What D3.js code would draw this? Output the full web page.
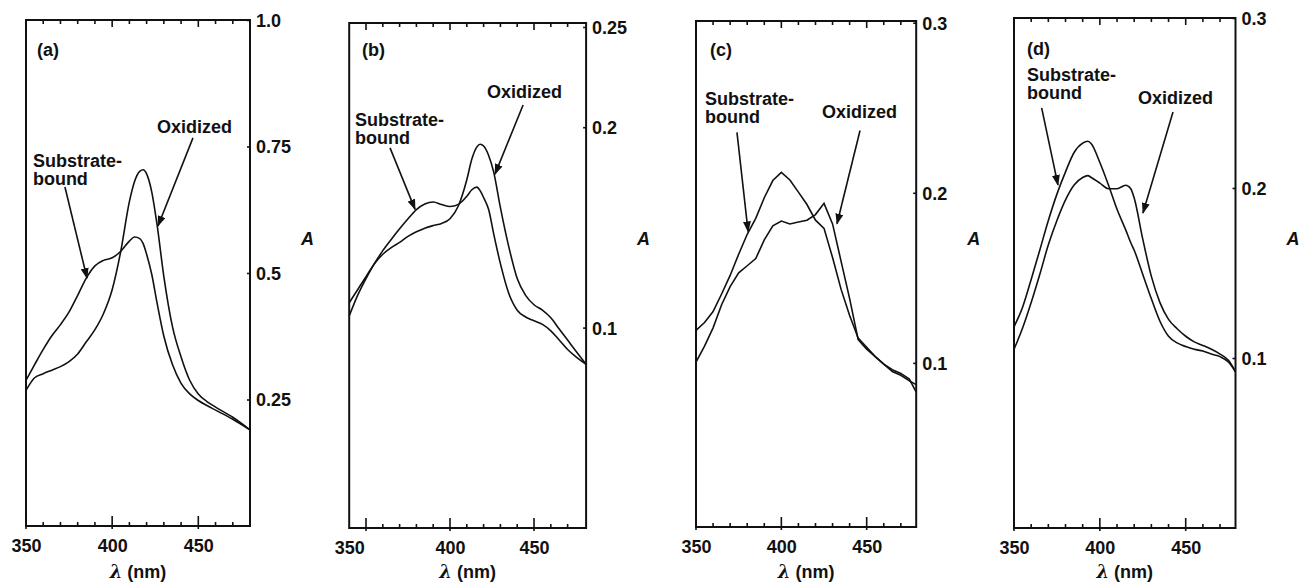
<!DOCTYPE html>
<html>
<head>
<meta charset="utf-8">
<script src="https://cdn.jsdelivr.net/npm/d3@7"></script>
<style>
  body { margin: 0; background: #ffffff; }
  text { font-family: "Liberation Sans", Arial, sans-serif; font-weight: bold; font-size: 18px; fill: #111; }
</style>
</head>
<body>
<svg id="chart"></svg>
<script>

// WAVELENGTHS (nm) AND ABSORBANCE

// PANEL (a)
var wl_a = [350,355,360,365,370,375,380,385,390,395,400,405,410,413,416,418,420,423,426,430,435,440,445,450,455,460,470,480];
var oxidized_a = [0.268,0.293,0.301,0.308,0.315,0.325,0.340,0.364,0.388,0.420,0.467,0.543,0.641,0.681,0.701,0.704,0.696,0.660,0.597,0.493,0.394,0.334,0.288,0.261,0.246,0.235,0.215,0.190];
var substrate_a = [0.288,0.319,0.349,0.376,0.398,0.423,0.456,0.490,0.514,0.525,0.530,0.543,0.563,0.571,0.568,0.558,0.537,0.497,0.442,0.375,0.319,0.282,0.261,0.248,0.238,0.229,0.211,0.190];

// PANEL (b)
var wl_b = [340,345,350,355,360,365,370,375,380,385,390,395,400,405,410,413,416,418,420,423,426,430,435,440,445,450,455,460,465,470,475,481];
var oxidized_b = [0.1124,0.1189,0.1254,0.1319,0.1366,0.1399,0.1425,0.1455,0.1478,0.1496,0.1509,0.1520,0.1543,0.1608,0.1738,0.1841,0.1902,0.1915,0.1906,0.1859,0.1776,0.1599,0.1403,0.1245,0.1161,0.1114,0.1087,0.1049,0.0993,0.0938,0.0882,0.0817];
var substrate_b = [0.1058,0.1161,0.1245,0.1319,0.1384,0.1440,0.1493,0.1543,0.1589,0.1617,0.1627,0.1614,0.1604,0.1615,0.1655,0.1688,0.1701,0.1682,0.1649,0.1589,0.1468,0.1319,0.1170,0.1087,0.1053,0.1034,0.1016,0.0984,0.0938,0.0891,0.0854,0.0817];

// PANEL (c)
var wl_c = [350,355,360,365,370,375,380,385,390,395,400,405,410,415,420,425,430,435,440,445,450,455,460,465,470,475,479];
var oxidized_c = [0.1004,0.1098,0.1206,0.1342,0.1448,0.1529,0.1571,0.1613,0.1723,0.1806,0.1834,0.1817,0.1828,0.1839,0.1872,0.1938,0.1817,0.1597,0.1378,0.1136,0.1081,0.1037,0.0993,0.0960,0.0938,0.0905,0.0828];
var substrate_c = [0.1191,0.1237,0.1302,0.1405,0.1514,0.1639,0.1756,0.1850,0.1971,0.2072,0.2120,0.2075,0.2004,0.1931,0.1839,0.1791,0.1619,0.1432,0.1278,0.1146,0.1092,0.1037,0.0993,0.0949,0.0927,0.0894,0.0872];

// PANEL (d)
var wl_d = [350,355,360,365,370,375,380,385,390,393,395,400,405,410,415,418,420,425,430,435,440,445,450,455,460,465,470,475,479];
var oxidized_d = [0.1051,0.1176,0.1326,0.1491,0.1666,0.1809,0.1930,0.2018,0.2062,0.2073,0.2062,0.2029,0.1996,0.1996,0.2016,0.1996,0.1941,0.1699,0.1480,0.1326,0.1227,0.1172,0.1128,0.1095,0.1074,0.1051,0.1023,0.0985,0.0919];
var substrate_d = [0.1183,0.1299,0.1462,0.1634,0.1809,0.1964,0.2095,0.2209,0.2264,0.2275,0.2260,0.2150,0.2018,0.1875,0.1755,0.1678,0.1634,0.1491,0.1348,0.1216,0.1128,0.1089,0.1067,0.1051,0.1041,0.1023,0.1008,0.0975,0.0919];

// TICK LABELS
var xTickText = ["350", "400", "450"];
var yTicks_a = [0.25, 0.5, 0.75, 1.0],  yTickText_a = ["0.25", "0.5", "0.75", "1.0"];
var yTicks_b = [0.1, 0.2, 0.25],        yTickText_b = ["0.1", "0.2", "0.25"];
var yTicks_c = [0.1, 0.2, 0.3],         yTickText_c = ["0.1", "0.2", "0.3"];
var yTicks_d = [0.1, 0.2, 0.3],         yTickText_d = ["0.1", "0.2", "0.3"];


var width = 1300,
    height = 584;

var svg = d3.select('#chart')
            .attr("width", width)
            .attr("height", height);

svg.append("rect").attr("width", width).attr("height", height).attr("fill", "#ffffff");

var defs = svg.append("defs");
defs.append("marker")
    .attr("id", "head")
    .attr("markerUnits", "userSpaceOnUse")
    .attr("markerWidth", 11)
    .attr("markerHeight", 8)
    .attr("refX", 10)
    .attr("refY", 4)
    .attr("orient", "auto")
  .append("path")
    .attr("d", "M0,0 L11,4 L0,8 Z")
    .attr("fill", "#111");


function show_panel(p){

    var x = d3.scaleLinear().domain(p.xdomain).range(p.xrange);
    var y = d3.scaleLinear().domain(p.ydomain).range(p.yrange);

    var g = svg.append("g");

    var left = p.xrange[0], right = p.xrange[1],
        top = p.yrange[1], bottom = p.yrange[0];

    // FRAME
    g.append("rect")
        .attr("x", left).attr("y", top)
        .attr("width", right - left).attr("height", bottom - top)
        .attr("fill", "none").attr("stroke", "#111").attr("stroke-width", 2);

    // TOP AND BOTTOM TICKS EVERY 10 nm, POINTING INWARD
    var minor = d3.range(350, 480, 10);

    g.selectAll(".ttick").data(minor).enter().append("line")
        .attr("x1", function(d){ return x(d); })
        .attr("x2", function(d){ return x(d); })
        .attr("y1", top)
        .attr("y2", function(d){ return top + (d % 50 == 0 ? 7 : 4); })
        .attr("stroke", "#111").attr("stroke-width", 1.6);

    g.selectAll(".btick").data(minor).enter().append("line")
        .attr("x1", function(d){ return x(d); })
        .attr("x2", function(d){ return x(d); })
        .attr("y1", function(d){ return d % 50 == 0 ? bottom + 3 : bottom; })
        .attr("y2", function(d){ return bottom - (d % 50 == 0 ? 10 : 4); })
        .attr("stroke", "#111").attr("stroke-width", 1.6);

    // BOTTOM LABELS
    var xa = g.append("g")
        .attr("transform", "translate(0," + bottom + ")")
        .call(d3.axisBottom(x)
            .tickValues(p.xLabelAt)
            .tickFormat(function(d, i){ return xTickText[i]; })
            .tickSize(0)
            .tickPadding(13));
    xa.select(".domain").remove();
    xa.selectAll("text").attr("font-size", null).attr("font-family", null);

    // RIGHT AXIS
    var ya = g.append("g")
        .attr("transform", "translate(" + right + ",0)")
        .call(d3.axisRight(y)
            .tickValues(p.yticks)
            .tickFormat(function(d, i){ return p.ylabels[i]; })
            .tickSizeInner(-3)
            .tickSizeOuter(0)
            .tickPadding(6));
    ya.select(".domain").remove();
    ya.selectAll("line").attr("stroke", "#111").attr("stroke-width", 1.6);
    ya.selectAll("text").attr("font-size", null).attr("font-family", null).attr("dy", "0.36em");

    // AXIS TITLES
    var xt = g.append("text")
        .attr("x", (left + right) / 2)
        .attr("y", 578)
        .attr("text-anchor", "middle");
    xt.append("tspan").attr("font-style", "italic").attr("font-family", "DejaVu Serif").text("λ");
    xt.append("tspan").text(" (nm)");

    g.append("text")
        .attr("x", right + 51)
        .attr("y", 245)
        .attr("font-style", "italic")
        .text("A");

    // SPECTRA
    var line = d3.line()
        .x(function(d){ return x(d[0]); })
        .y(function(d){ return y(d[1]); })
        .curve(p.smooth ? d3.curveMonotoneX : d3.curveLinear);

    [p.oxidized, p.substrate].forEach(function(series){
        g.append("path")
            .datum(p.wl.map(function(w, i){ return [w, series[i]]; }))
            .attr("d", line)
            .attr("fill", "none")
            .attr("stroke", "#111")
            .attr("stroke-width", 1.6);
    });

    // PANEL LETTER AND LABELS
    g.append("text").attr("x", x(p.letterAt[0])).attr("y", y(p.letterAt[1])).text(p.letter);

    g.append("text").attr("x", x(p.subAt[0])).attr("y", y(p.subAt[1])).text("Substrate-");
    g.append("text").attr("x", x(p.subAt[0])).attr("y", y(p.subAt[1]) + 18).text("bound");
    g.append("text").attr("x", x(p.oxAt[0])).attr("y", y(p.oxAt[1])).text("Oxidized");

    // ARROWS
    [p.subArrow, p.oxArrow].forEach(function(a){
        g.append("line")
            .attr("x1", x(a[0])).attr("y1", y(a[1]))
            .attr("x2", x(a[2])).attr("y2", y(a[3]))
            .attr("stroke", "#111").attr("stroke-width", 1.6)
            .attr("marker-end", "url(#head)");
    });
}


show_panel({
    wl: wl_a, oxidized: oxidized_a, substrate: substrate_a, smooth: true,
    xdomain: [350, 480], xrange: [26, 250],
    ydomain: [0, 1], yrange: [526, 20],
    xLabelAt: [350, 400, 450],
    yticks: yTicks_a, ylabels: yTickText_a,
    letter: "(a)", letterAt: [356.4, 0.929],
    subAt: [354, 0.709], oxAt: [426, 0.777],
    subArrow: [372.6, 0.670, 385.4, 0.490],
    oxArrow: [446.9, 0.767, 426.6, 0.593]
});

show_panel({
    wl: wl_b, oxidized: oxidized_b, substrate: substrate_b, smooth: true,
    xdomain: [340, 481], xrange: [349.2, 586.1],
    ydomain: [0, 0.252], yrange: [528, 23],
    xLabelAt: [340, 400, 450],
    yticks: yTicks_b, ylabels: yTickText_b,
    letter: "(b)", letterAt: [347.6, 0.2353],
    subAt: [343.5, 0.2004], oxAt: [422, 0.2144],
    subArrow: [364.3, 0.1897, 379.2, 0.1590],
    oxArrow: [443.5, 0.2111, 426.8, 0.1766]
});

show_panel({
    wl: wl_c, oxidized: oxidized_c, substrate: substrate_c, smooth: false,
    xdomain: [350, 479], xrange: [696, 916.2],
    ydomain: [0.0035, 0.301], yrange: [527, 21],
    xLabelAt: [350, 400, 450],
    yticks: yTicks_c, ylabels: yTickText_c,
    letter: "(c)", letterAt: [358.2, 0.2806],
    subAt: [355.3, 0.2518], oxAt: [423.8, 0.2441],
    subArrow: [374, 0.2355, 380.5, 0.1773],
    oxArrow: [446.1, 0.2366, 432.6, 0.1818]
});

show_panel({
    wl: wl_d, oxidized: oxidized_d, substrate: substrate_d, smooth: true,
    xdomain: [350, 479], xrange: [1014, 1235.5],
    ydomain: [0, 0.3], yrange: [528, 18],
    xLabelAt: [350, 400, 450],
    yticks: yTicks_d, ylabels: yTickText_d,
    letter: "(d)", letterAt: [357.6, 0.2782],
    subAt: [357.6, 0.2629], oxAt: [422.2, 0.2494],
    subArrow: [366.1, 0.2471, 375.6, 0.2018],
    oxArrow: [442.6, 0.2447, 425.1, 0.1853]
});

</script>
</body>
</html>
